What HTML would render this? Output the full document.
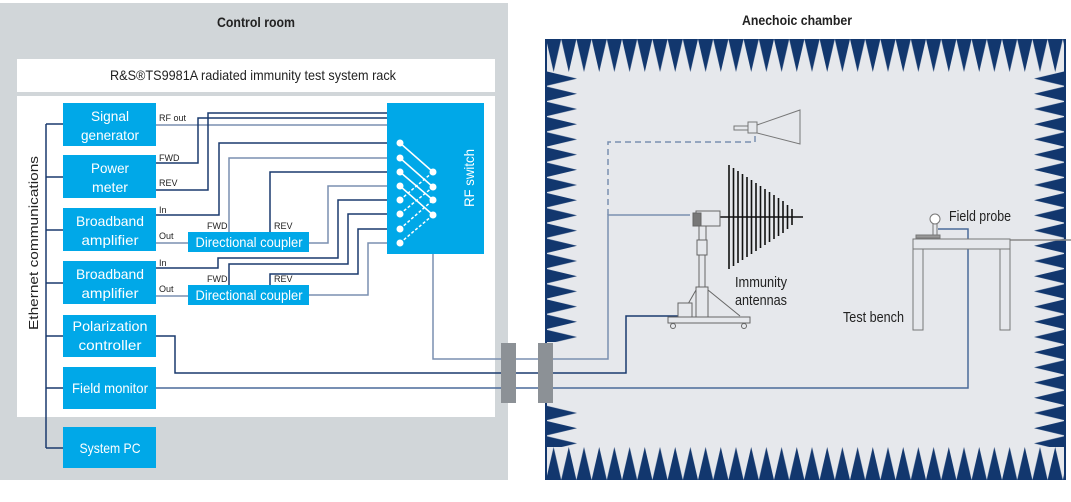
<!DOCTYPE html>
<html><head><meta charset="utf-8"><style>
html,body{margin:0;padding:0;background:#fff;}
svg{display:block;font-family:"Liberation Sans",sans-serif;}
</style></head><body>
<svg width="1071" height="502" viewBox="0 0 1071 502" xmlns="http://www.w3.org/2000/svg">
<defs>
<pattern id="pt" x="546" y="39" width="15.2" height="34" patternUnits="userSpaceOnUse"><polygon points="0,0 15.2,0 7.6,33" fill="#12376e"/></pattern>
<pattern id="pb" x="546" y="447" width="15.2" height="33" patternUnits="userSpaceOnUse"><polygon points="0,33 15.2,33 7.6,0" fill="#12376e"/></pattern>
<pattern id="pl" x="545" y="71" width="33" height="15.2" patternUnits="userSpaceOnUse"><polygon points="0,0 32,7.6 0,15.2" fill="#12376e"/></pattern>
<pattern id="pr" x="1033" y="71" width="33" height="15.2" patternUnits="userSpaceOnUse"><polygon points="33,0 1,7.6 33,15.2" fill="#12376e"/></pattern>
</defs>
<rect x="0" y="3" width="508" height="477" fill="#d1d6d9"/>
<text x="217" y="27" font-size="14" font-weight="bold" fill="#222" textLength="78" lengthAdjust="spacingAndGlyphs">Control room</text>
<rect x="17" y="59" width="478" height="33" fill="#fff"/>
<text x="110" y="80" font-size="14" fill="#222" textLength="286" lengthAdjust="spacingAndGlyphs">R&amp;S®TS9981A radiated immunity test system rack</text>
<rect x="17" y="96" width="478" height="321" fill="#fff"/>
<text x="742" y="25" font-size="14" font-weight="bold" fill="#222" textLength="110" lengthAdjust="spacingAndGlyphs">Anechoic chamber</text>
<rect x="545" y="39" width="521" height="441" fill="#e6e8ec"/>
<rect x="545" y="39" width="521" height="34" fill="url(#pt)"/>
<rect x="545" y="447" width="521" height="33" fill="url(#pb)"/>
<rect x="545" y="71" width="33" height="376" fill="url(#pl)"/>
<rect x="1033" y="71" width="33" height="376" fill="url(#pr)"/>
<rect x="545" y="39" width="2" height="441" fill="#12376e"/>
<rect x="1064" y="39" width="2" height="441" fill="#12376e"/>
<rect x="547" y="342" width="34" height="63" fill="#e6e8ec"/>
<g stroke="#1a3a6e" stroke-width="1.5" fill="none">
<path d="M46 124V448M46 124H63M46 177H63M46 230H63M46 283H63M46 336H63M46 388H63M46 448H63"/>
</g>
<text transform="translate(38,330) rotate(-90)" font-size="13" fill="#222" textLength="174" lengthAdjust="spacingAndGlyphs">Ethernet communications</text>
<g fill="none" stroke-width="1.5">
<path stroke="#7a8fb0" d="M156 125H443V172H433"/>
<path stroke="#1a3a6e" d="M156 163H198V118H449V187H433"/>
<path stroke="#1a3a6e" d="M156 190H208V113H455V200H433"/>
<path stroke="#1a3a6e" d="M156 215H219V143H400"/>
<path stroke="#7a8fb0" d="M229 232V158H400"/>
<path stroke="#1a3a6e" d="M270 232V172H400"/>
<path stroke="#7a8fb0" d="M156 243H188M309 243H328V186H400"/>
<path stroke="#1a3a6e" d="M156 268H218V258H338V200H400"/>
<path stroke="#1a3a6e" d="M229 285V264H348V214H400"/>
<path stroke="#1a3a6e" d="M270 285V274H358V229H400"/>
<path stroke="#7a8fb0" d="M156 296H188M309 295H368V243H400"/>
<path stroke="#7a8fb0" d="M433 215V359H608V215H690"/>
<path stroke="#7a8fb0" stroke-dasharray="6,4" d="M608 215V142H755V132"/>
<path stroke="#1a3a6e" d="M156 336H175V373H626V316H678"/>
<path stroke="#4a6a9a" d="M156 388H968V229H938"/>
<path stroke="#888" d="M1010 240H1071"/>
</g>
<g fill="#00a8e8">
<rect x="63" y="103" width="93" height="43"/>
<rect x="63" y="155" width="93" height="43"/>
<rect x="63" y="208" width="93" height="43"/>
<rect x="63" y="261" width="93" height="43"/>
<rect x="63" y="315" width="93" height="42"/>
<rect x="63" y="367" width="93" height="42"/>
<rect x="63" y="427" width="93" height="41"/>
<rect x="188" y="232" width="121" height="20"/>
<rect x="188" y="285" width="121" height="20"/>
<rect x="387" y="103" width="97" height="151"/>
</g>
<g font-size="14" fill="#fff" text-anchor="middle">
<text x="110" y="121" textLength="38" lengthAdjust="spacingAndGlyphs">Signal</text><text x="110" y="140" textLength="58" lengthAdjust="spacingAndGlyphs">generator</text>
<text x="110" y="173" textLength="38" lengthAdjust="spacingAndGlyphs">Power</text><text x="110" y="192" textLength="36" lengthAdjust="spacingAndGlyphs">meter</text>
<text x="110" y="226" textLength="68" lengthAdjust="spacingAndGlyphs">Broadband</text><text x="110" y="245" textLength="57" lengthAdjust="spacingAndGlyphs">amplifier</text>
<text x="110" y="279" textLength="68" lengthAdjust="spacingAndGlyphs">Broadband</text><text x="110" y="298" textLength="57" lengthAdjust="spacingAndGlyphs">amplifier</text>
<text x="110" y="331" textLength="75" lengthAdjust="spacingAndGlyphs">Polarization</text><text x="110" y="350" textLength="63" lengthAdjust="spacingAndGlyphs">controller</text>
<text x="110" y="393" textLength="76" lengthAdjust="spacingAndGlyphs">Field monitor</text>
<text x="110" y="453" textLength="61" lengthAdjust="spacingAndGlyphs">System PC</text>
<text x="249" y="247" textLength="107" lengthAdjust="spacingAndGlyphs">Directional coupler</text>
<text x="249" y="300" textLength="107" lengthAdjust="spacingAndGlyphs">Directional coupler</text>
<text transform="translate(474,178) rotate(-90)" textLength="58" lengthAdjust="spacingAndGlyphs">RF switch</text>
</g>
<g font-size="9" fill="#222">
<text x="159" y="121">RF out</text>
<text x="159" y="161">FWD</text><text x="159" y="186">REV</text>
<text x="159" y="213">In</text><text x="159" y="239">Out</text>
<text x="207" y="229">FWD</text><text x="274" y="229">REV</text>
<text x="159" y="266">In</text><text x="159" y="292">Out</text>
<text x="207" y="282">FWD</text><text x="274" y="282">REV</text>
</g>
<g stroke="#fff" stroke-width="1.5">
<path d="M400 143L433 172M400 158L433 187M400 172L433 200M400 186L433 215"/>
<path stroke-dasharray="3,2" d="M400 200L433 172M400 214L433 187M400 229L433 200M400 243L433 215"/>
</g>
<g fill="#fff">
<circle cx="400" cy="143" r="3.5"/><circle cx="400" cy="158" r="3.5"/><circle cx="400" cy="172" r="3.5"/><circle cx="400" cy="186" r="3.5"/>
<circle cx="400" cy="200" r="3.5"/><circle cx="400" cy="214" r="3.5"/><circle cx="400" cy="229" r="3.5"/><circle cx="400" cy="243" r="3.5"/>
<circle cx="433" cy="172" r="3.5"/><circle cx="433" cy="187" r="3.5"/><circle cx="433" cy="200" r="3.5"/><circle cx="433" cy="215" r="3.5"/>
</g>
<rect x="501" y="343" width="15" height="60" fill="#8c9196"/>
<rect x="538" y="343" width="15" height="60" fill="#8c9196"/>
<g stroke="#777" fill="#e6e8ec" stroke-width="1">
<rect x="734" y="126" width="14" height="4"/>
<rect x="748" y="122" width="9" height="11"/>
<polygon points="757,125 800,110 800,144 757,133"/>
</g>
<g stroke="#111" stroke-width="1.6">
<path d="M729 165V269M733.5 168V266M738 171V263M742.5 174V260M747 177V257M751.5 180V254M756 183V251M760.5 186V248M765 189V245M769.5 192V242M774 195V239M778.5 198V236M783 201V233M787.5 205V229M792 209V225"/>
<path d="M720 217H803"/>
</g>
<g stroke="#666" fill="#e6e8ec" stroke-width="1">
<rect x="696" y="211" width="24" height="15"/>
<rect x="693" y="213" width="8" height="13" fill="#777"/>
<rect x="699" y="226" width="7" height="14"/>
<rect x="697" y="240" width="10" height="15"/>
<rect x="699" y="255" width="6" height="32"/>
<rect x="696" y="287" width="12" height="30"/>
<path d="M708 290L740 316M696 290L688 304" fill="none"/>
<rect x="678" y="303" width="14" height="15"/>
<rect x="668" y="317" width="82" height="6"/>
<circle cx="673" cy="326" r="2.5"/><circle cx="744" cy="326" r="2.5"/>
</g>
<g font-size="15" fill="#222">
<text x="735" y="287" textLength="52" lengthAdjust="spacingAndGlyphs">Immunity</text><text x="735" y="305" textLength="52" lengthAdjust="spacingAndGlyphs">antennas</text>
<text x="843" y="322" textLength="61" lengthAdjust="spacingAndGlyphs">Test bench</text>
<text x="949" y="221" textLength="62" lengthAdjust="spacingAndGlyphs">Field probe</text>
</g>
<g stroke="#777" fill="#e6e8ec" stroke-width="1">
<rect x="913" y="239" width="97" height="10"/>
<rect x="913" y="249" width="10" height="81"/>
<rect x="1000" y="249" width="10" height="81"/>
<rect x="916" y="235" width="24" height="3" fill="#999"/>
<rect x="933" y="223" width="4" height="12"/>
<circle cx="935" cy="219" r="5" fill="#fff"/>
</g>
</svg>
</body></html>
